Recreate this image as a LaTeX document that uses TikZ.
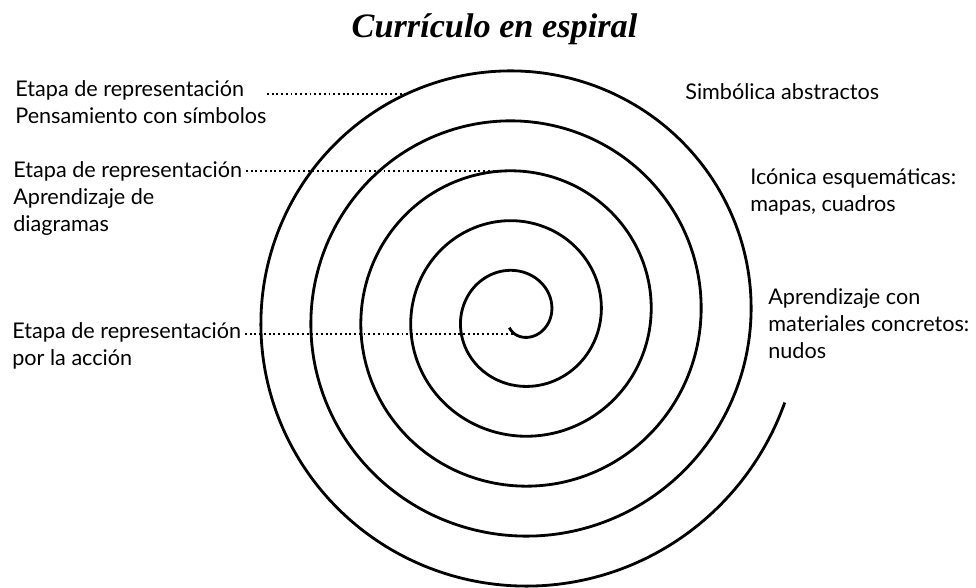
\documentclass[tikz,border=0pt]{standalone}
\usepackage{fontspec}
\setmainfont{Lato}
\newfontfamily\titlefont{Liberation Serif}

\begin{document}
\begin{tikzpicture}[
  etiqueta/.style={font=\fontsize{12.3}{15.3}\selectfont, align=left, inner sep=0pt, anchor=north west},
  guia/.style={line width=1.2pt, dash pattern=on 1.1pt off 1.6pt},
  espiral/.style={line width=1.6pt}
]
\useasboundingbox (-10.37,-5.44) rectangle (9.15,6.32);
\draw[espiral, domain=-128:1782, samples=600, smooth, variable=\t]
  plot ({(\t+234)/360*cos(\t)}, {(\t+234)/360*sin(\t)});

\coordinate (sA) at ({(1557+234)/360*cos(1557)}, {(1557+234)/360*sin(1557)});
\coordinate (sB) at ({(812+234)/360*cos(812)}, {(812+234)/360*sin(812)});
\coordinate (sC) at ({(-100+234)/360*cos(-100)}, {(-100+234)/360*sin(-100)});

\node[font=\titlefont\bfseries\itshape\fontsize{19.5}{22}\selectfont, anchor=base] (titulo) at (-0.48,5.56) {Currículo en espiral};

\node[etiqueta] (etapaA) at (-10.07,4.72) {Etapa de representación\\Pensamiento con símbolos};
\node[etiqueta] (etapaB) at (-10.11,3.10) {Etapa de representación\\Aprendizaje de\\diagramas};
\node[etiqueta] (etapaC) at (-10.13,-0.12) {Etapa de representación\\por la acción};

\node[etiqueta] (simbolica) at (3.33,4.66) {Simbólica abstractos};
\node[etiqueta] (iconica) at (4.63,2.96) {Icónica esquemáticas:\\mapas, cuadros};
\node[etiqueta] (concretos) at (4.99,0.56) {Aprendizaje con\\materiales concretos:\\nudos};

\draw[guia] (etapaA.east |- sA) -- (sA);
\draw[guia] ([xshift=2pt]etapaB.east |- sB) -- (sB);
\draw[guia] ([xshift=2pt]etapaC.east |- sC) -- (sC);
\end{tikzpicture}
\end{document}
